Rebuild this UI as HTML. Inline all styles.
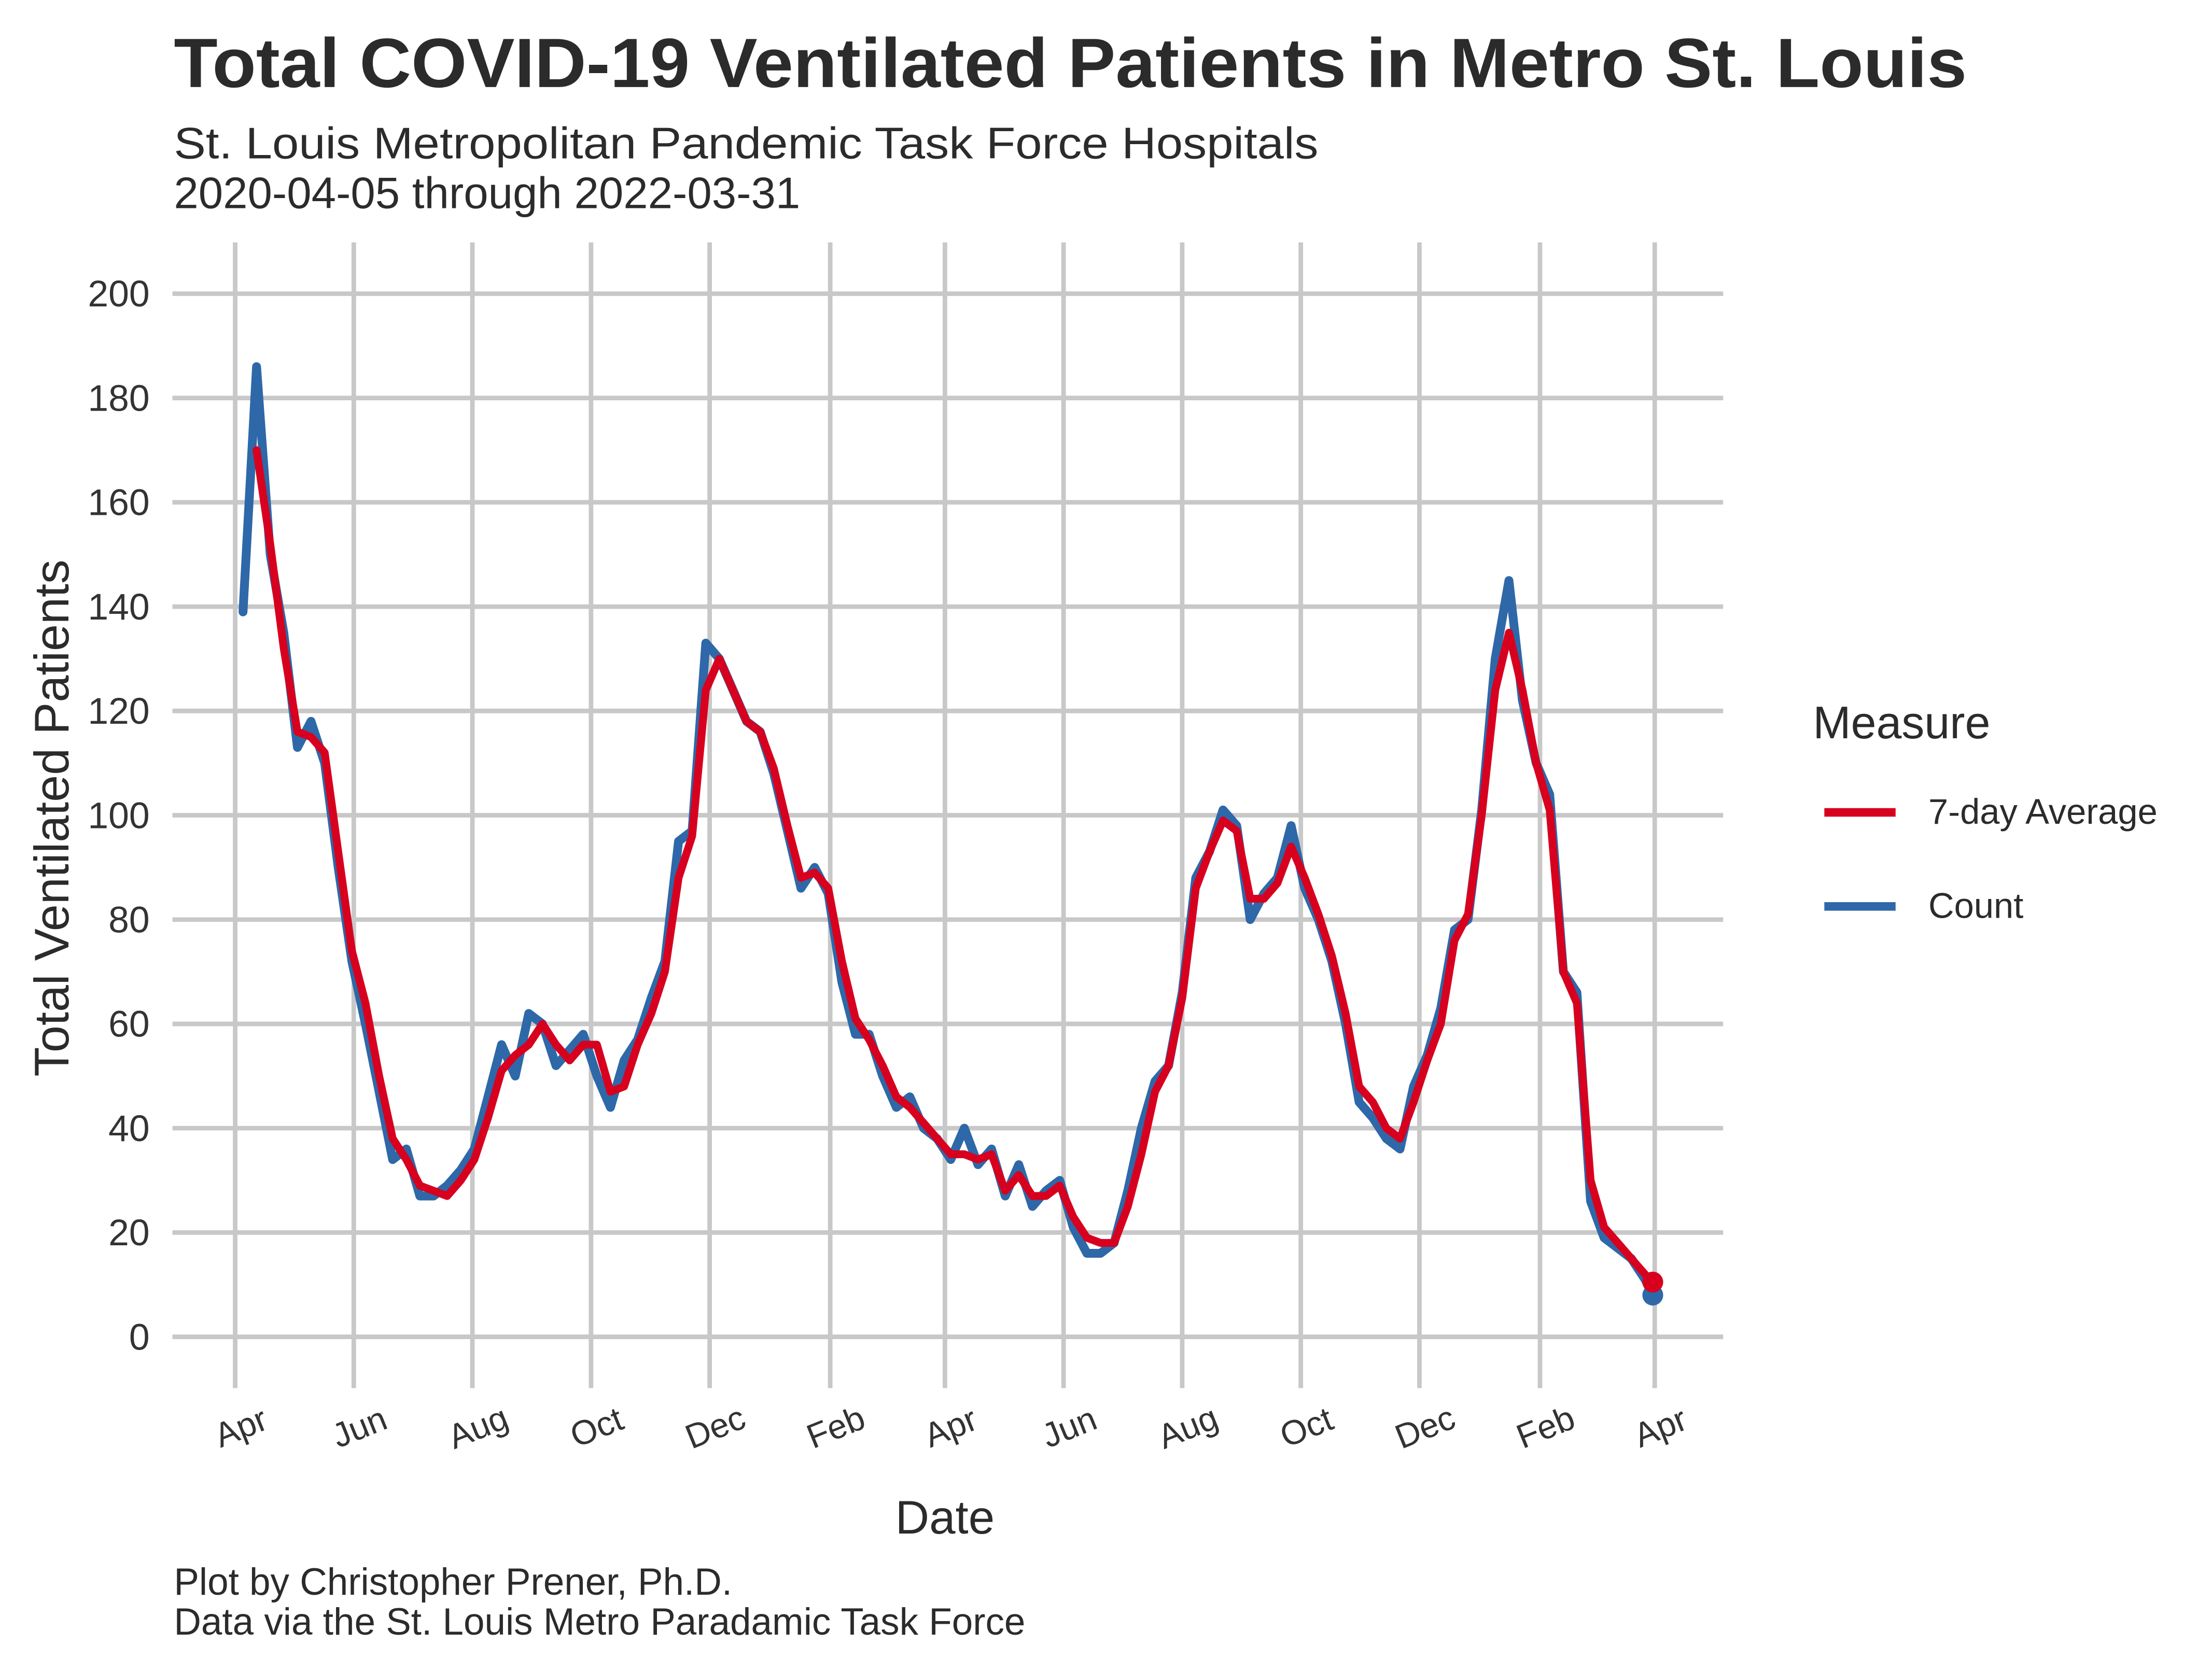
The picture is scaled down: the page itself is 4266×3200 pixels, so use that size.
<!DOCTYPE html>
<html><head><meta charset="utf-8"><style>
html,body{margin:0;padding:0;background:#fff}
svg{display:block;font-family:"Liberation Sans",Arial,sans-serif}
</style></head><body>
<svg id="chart" width="4266" height="3200" viewBox="0 0 1552 1164" xmlns="http://www.w3.org/2000/svg">
<rect width="1552" height="1164" fill="#fff"/>
<text x="122" y="61" font-size="49" font-weight="bold" fill="#2b2b2b" textLength="1258" lengthAdjust="spacingAndGlyphs">Total COVID-19 Ventilated Patients in Metro St. Louis</text>
<text x="122" y="111" font-size="31" fill="#2b2b2b" textLength="803" lengthAdjust="spacingAndGlyphs">St. Louis Metropolitan Pandemic Task Force Hospitals</text>
<text x="122" y="146" font-size="31" fill="#2b2b2b">2020-04-05 through 2022-03-31</text>
<g id="grid"></g>
<g id="yticks"></g>
<g id="xticks"></g>
<g id="series"></g>
<text x="663" y="1076" font-size="33" text-anchor="middle" fill="#2b2b2b">Date</text>
<text transform="translate(48,574) rotate(-90)" font-size="34" text-anchor="middle" fill="#2b2b2b">Total Ventilated Patients</text>
<g>
<text x="1272" y="518" font-size="32" fill="#2b2b2b">Measure</text>
<g>
<line x1="1280" y1="570" x2="1330" y2="570" stroke="#d7001e" stroke-width="6"/>
<text x="1353" y="578" font-size="25" fill="#2b2b2b">7-day Average</text></g>
<g>
<line x1="1280" y1="636" x2="1330" y2="636" stroke="#2e68a8" stroke-width="6"/>
<text x="1353" y="644" font-size="25" fill="#2b2b2b">Count</text></g>
</g>
<text x="122" y="1119" font-size="26.5" fill="#2b2b2b">Plot by Christopher Prener, Ph.D.</text>
<text x="122" y="1147" font-size="26.5" fill="#2b2b2b">Data via the St. Louis Metro Paradamic Task Force</text>
</svg>
<script>
const yTicks=[0,20,40,60,80,100,120,140,160,180,200];
const xTickLabels=["Apr","Jun","Aug","Oct","Dec","Feb","Apr","Jun","Aug","Oct","Dec","Feb","Apr"];
const xTickDates=["2020-04-01","2020-06-01","2020-08-01","2020-10-01","2020-12-01","2021-02-01","2021-04-01","2021-06-01","2021-08-01","2021-10-01","2021-12-01","2022-02-01","2022-04-01"];
const countValues=[139,186,150,135,113,118,110,90,72,60,47,34,36,27,27,29,32,36,46,56,50,62,60,52,55,58,50,44,53,57,65,72,95,97,133,130,124,118,116,108,97,86,90,85,68,58,58,50,44,46,40,38,34,40,33,36,27,33,25,28,30,21,16,16,18,28,40,49,52,66,88,93,101,98,80,85,88,98,86,80,72,60,45,42,38,36,48,54,63,78,80,101,130,145,122,110,104,70,66,26,19,17,15,11,8];
const avgValues=[null,170,152,132,116,115,112,93,74,64,50,38,34,29,28,27,30,34,42,51,54,56,60,56,53,56,56,47,48,56,62,70,88,96,124,130,124,118,116,109,98,88,89,86,72,61,57,52,46,44,41,38,35,35,34,35,28,31,27,27,29,23,19,18,18,25,35,47,52,65,86,93,99,97,84,84,87,94,88,81,73,62,48,45,40,38,45,53,60,76,81,100,124,135,124,110,101,70,64,30,21,18,15,12,10.5];
const startDate="2020-04-05";

const NS="http://www.w3.org/2000/svg";
const x0=Date.parse("2020-04-01"),x1=Date.parse("2022-04-01");
function xs(ms){return 165+(ms-x0)/(x1-x0)*(1161-165);}
function ys(v){return 938-v*(938-206)/200;}
const dayMs=86400000,s0=Date.parse(startDate),endMs=Date.parse("2022-03-31");
function dateAt(i,n){return i===n-1?endMs:s0+i*7*dayMs;}
function mk(tag,attrs,parent){const e=document.createElementNS(NS,tag);for(const k in attrs)e.setAttribute(k,attrs[k]);parent.appendChild(e);return e;}
const grid=document.getElementById('grid'),yt=document.getElementById('yticks'),xt=document.getElementById('xticks'),ser=document.getElementById('series');
yTicks.forEach(v=>{
  const l=mk('line',{x1:121,x2:1209,y1:ys(v),y2:ys(v),stroke:'#c8c8c8','stroke-width':3.2},grid);
  
  
  const t=mk('text',{x:105,y:ys(v)+9,'font-size':26,'text-anchor':'end',fill:'#333'},yt);
  
  
  t.textContent=v;
});
xTickDates.forEach((d,i)=>{
  const x=xs(Date.parse(d));
  const l=mk('line',{x1:x,x2:x,y1:170,y2:974,stroke:'#c8c8c8','stroke-width':3.2},grid);
  
  
  const t=mk('text',{transform:`translate(${x+7},${1009}) rotate(-22)`,'font-size':24,'text-anchor':'middle',fill:'#333'},xt);
  
  
  t.textContent=xTickLabels[i];
});
function pathFor(vals){let d='';const n=vals.length;vals.forEach((v,i)=>{if(v==null)return;const p=xs(dateAt(i,n)).toFixed(1)+','+ys(v).toFixed(1);d+=(d?'L':'M')+p;});return d;}
const cp=mk('path',{d:pathFor(countValues),fill:'none',stroke:'#2e68a8','stroke-width':6.2,'stroke-linejoin':'round','stroke-linecap':'round'},ser);


const ap=mk('path',{d:pathFor(avgValues),fill:'none',stroke:'#d7001e','stroke-width':5.5,'stroke-linejoin':'round','stroke-linecap':'round'},ser);


const cd=mk('circle',{cx:xs(endMs),cy:ys(countValues[countValues.length-1]),r:7.3,fill:'#2e68a8'},ser);


const ad=mk('circle',{cx:xs(endMs),cy:ys(avgValues[avgValues.length-1]),r:7.3,fill:'#d7001e'},ser);


</script>
</body></html>
